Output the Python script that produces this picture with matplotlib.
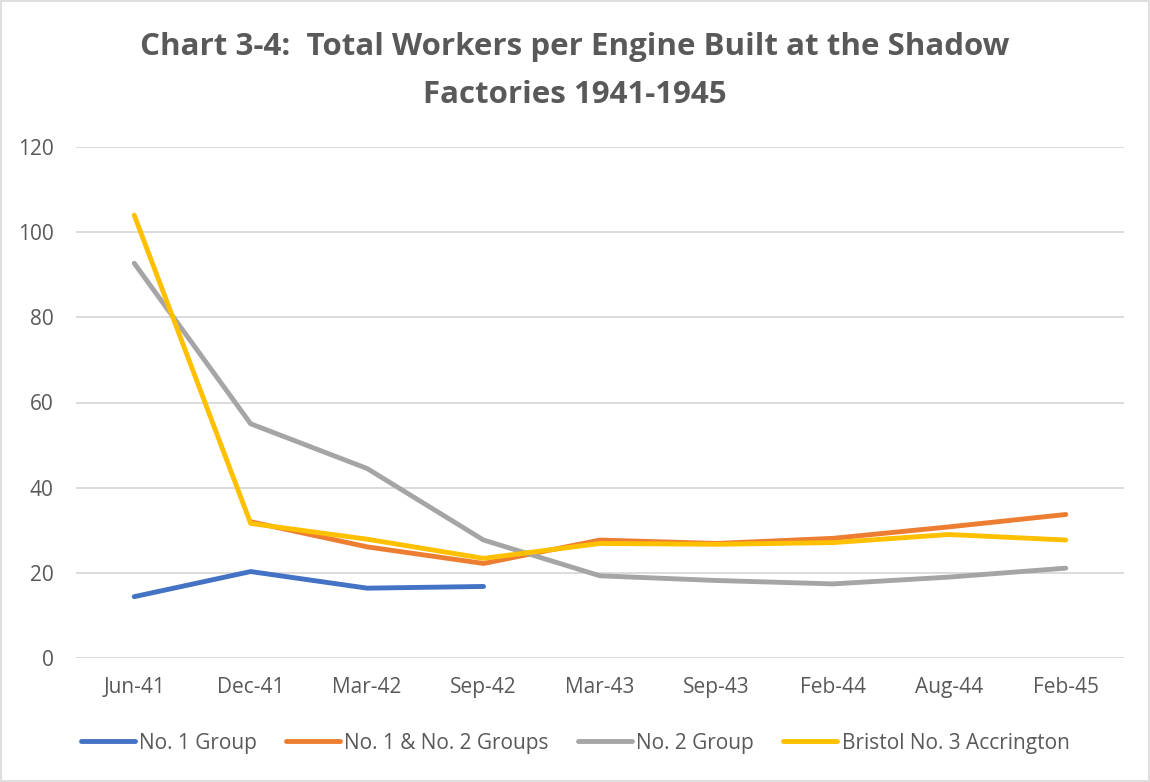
import matplotlib
matplotlib.use("Agg")
import matplotlib.pyplot as plt
from matplotlib.lines import Line2D
import numpy as np

# chart values
months = ["Jun-41", "Dec-41", "Mar-42", "Sep-42", "Mar-43", "Sep-43", "Feb-44", "Aug-44", "Feb-45"]
no1_group = [14.4, 20.3, 16.4, 16.8, None, None, None, None, None]
no1_no2_groups = [None, 32.0, 26.1, 22.2, 27.7, 26.9, 28.1, 30.8, 33.7]
no2_group = [92.7, 55.0, 44.5, 27.7, 19.3, 18.2, 17.4, 19.0, 21.1]
bristol_accrington = [104.0, 31.6, 27.9, 23.4, 26.9, 26.7, 27.1, 29.0, 27.7]

series_names = ["No. 1 Group", "No. 1 & No. 2 Groups", "No. 2 Group", "Bristol No. 3 Accrington"]
colours = ["#4472C4", "#ED7D31", "#A5A5A5", "#FFC000"]

plt.rcParams['font.family'] = ['Open Sans', 'DejaVu Sans']
text_grey = "#595959"

fig = plt.figure(figsize=(11.5, 7.82), dpi=100)
ax = fig.add_axes([76 / 1150, 1 - 658 / 782, (1124 - 76) / 1150, (658 - 147) / 782])

x = np.arange(len(months))
all_series = [no1_group, no1_no2_groups, no2_group, bristol_accrington]
for vals, col in zip(all_series, colours):
    y = np.array([np.nan if v is None else v for v in vals], dtype=float)
    ax.plot(x, y, color=col, linewidth=3.5, solid_capstyle='round', solid_joinstyle='round')

ax.set_xlim(-0.5, len(months) - 0.5)
ax.set_ylim(0, 120)
ax.set_yticks(range(0, 121, 20))
ax.set_xticks(x)
ax.set_xticklabels(months)
ax.tick_params(axis='both', length=0, labelsize=15, labelcolor=text_grey)
ax.tick_params(axis='x', pad=14)
ax.tick_params(axis='y', pad=16)
ax.grid(axis='y', color="#D9D9D9", linewidth=1.3)
ax.set_axisbelow(True)
for s in ax.spines.values():
    s.set_visible(False)

fig.text(0.5, 1 - 47 / 782, "Chart 3-4:  Total Workers per Engine Built at the Shadow",
         ha='center', va='center', fontsize=22.5, fontweight='bold', color=text_grey)
fig.text(0.5, 1 - 95 / 782, "Factories 1941-1945",
         ha='center', va='center', fontsize=22.5, fontweight='bold', color=text_grey)

handles = [Line2D([0], [0], color=c, linewidth=3.5, solid_capstyle='round') for c in colours]
fig.legend(handles, series_names, loc='center', bbox_to_anchor=(0.5, 1 - 743 / 782),
           ncol=4, frameon=False, fontsize=15, labelcolor=text_grey,
           handlelength=2.6, handletextpad=0.2, columnspacing=1.4)

border = plt.Rectangle((0.001, 0.001), 0.998, 0.998, transform=fig.transFigure,
                       fill=False, edgecolor="#D9D9D9", linewidth=1.2)
fig.add_artist(border)

fig.savefig("out.png", dpi=100)
